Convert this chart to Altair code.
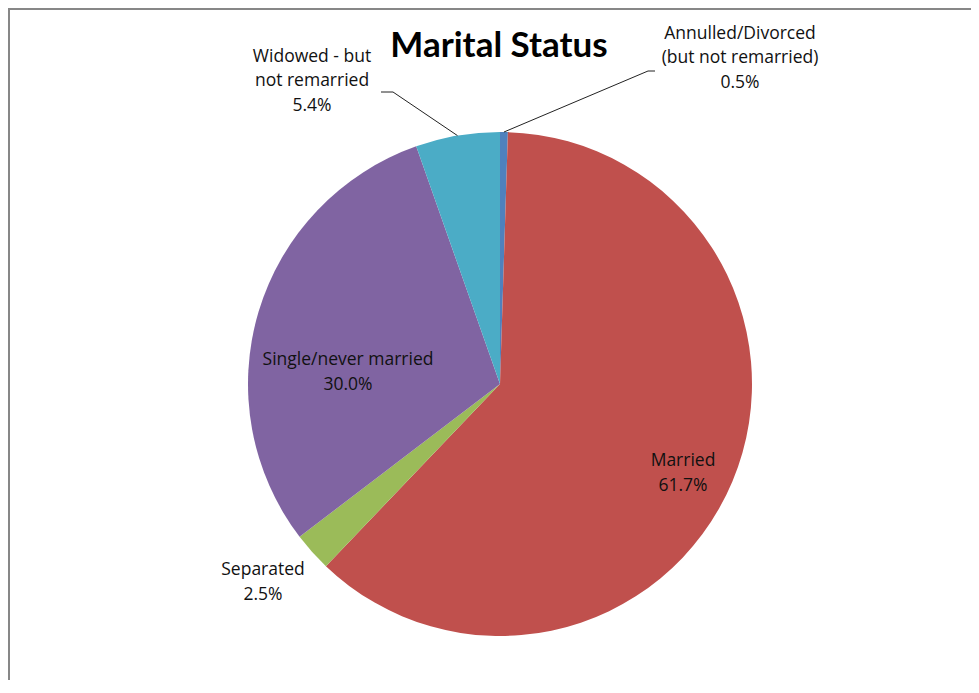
import math
import altair as alt
import pandas as pd

# ---- data ----
categories = ["Annulled/Divorced\n(but not remarried)", "Married", "Separated",
              "Single/never married", "Widowed - but\nnot remarried"]
values = [0.5, 61.7, 2.5, 30.0, 5.4]
colors = ["#4F81BD", "#C0504D", "#9BBB59", "#8064A2", "#4BACC6"]
title_text = "Marital Status"

# ---- layout ----
W, H = 963, 672
CX, CY = 492, 376          # pie centre inside the view
R = 252                    # pie radius
LABEL_FONT = "Open Sans"
LABEL_SIZE = 17.5
LINE_H = 24.5
# label block centre offsets from the pie centre (pixels)
label_dx = [240, 183, -237, -152, -188]
label_dy = [-326, 89.5, 198.5, -11.5, -303]
# leader line elbows relative to pie centre (None = no leader)
leader_elbow = [[(148, -313), (155, -313)], None, None, None,
                [(-107, -292), (-119, -292)]]

order = list(range(len(categories)))
total = sum(values)
df = pd.DataFrame({"cat": categories, "value": values, "order": order})

labels = []
for i, (c, v) in enumerate(zip(categories, values)):
    txt = f"{c}\n{v:.1f}%"
    n = txt.count("\n") + 1
    labels.append({"label": txt, "x": CX + label_dx[i],
                   "y": CY + label_dy[i] - (n - 1) * LINE_H / 2})
lab_df = pd.DataFrame(labels)

rows = []
cum = 0.0
for i, v in enumerate(values):
    mid = (cum + v / 2) / total * 2 * math.pi
    cum += v
    if leader_elbow[i] is None:
        continue
    ex, ey = CX + R * math.sin(mid), CY - R * math.cos(mid)
    pts = [(ex, ey)] + [(CX + a, CY + b) for a, b in leader_elbow[i]]
    for k, (px, py) in enumerate(pts):
        rows.append({"cat": categories[i], "seq": k, "x": px, "y": py})
lead_df = pd.DataFrame(rows)

pie = alt.Chart(df).mark_arc(outerRadius=R).encode(
    theta=alt.Theta("value:Q", stack=True),
    order=alt.Order("order:Q"),
    color=alt.Color("cat:N", scale=alt.Scale(domain=categories, range=colors), legend=None),
    x=alt.value(CX), y=alt.value(CY),
)

text = alt.Chart(lab_df).mark_text(
    font=LABEL_FONT, fontSize=LABEL_SIZE, color="#111111", align="center", baseline="middle",
    lineBreak="\n", lineHeight=LINE_H,
).encode(
    x=alt.X("x:Q", scale=None), y=alt.Y("y:Q", scale=None), text="label:N"
)

leaders = alt.Chart(lead_df).mark_line(color="#222222", strokeWidth=1).encode(
    x=alt.X("x:Q", scale=None), y=alt.Y("y:Q", scale=None),
    detail="cat:N", order="seq:Q",
)

title = alt.Chart(pd.DataFrame({"t": [title_text]})).mark_text(
    font="Lato", fontSize=35, fontWeight="bold", color="#000000", align="center", baseline="middle"
).encode(x=alt.value(491), y=alt.value(38), text="t:N")

frame_left = alt.Chart(pd.DataFrame({"a": [0]})).mark_rule(color="#878787", strokeWidth=2).encode(
    x=alt.value(1), y=alt.value(0), y2=alt.value(H))
frame_top = alt.Chart(pd.DataFrame({"a": [0]})).mark_rule(color="#878787", strokeWidth=2).encode(
    x=alt.value(0), x2=alt.value(W), y=alt.value(1))

chart = alt.layer(pie, leaders, text, title, frame_left, frame_top).properties(
    width=W, height=H, padding=0, autosize="none"
).configure_view(stroke=None).configure(background="white")

chart.save("out.html", embed_options={"renderer": "svg", "actions": False})
